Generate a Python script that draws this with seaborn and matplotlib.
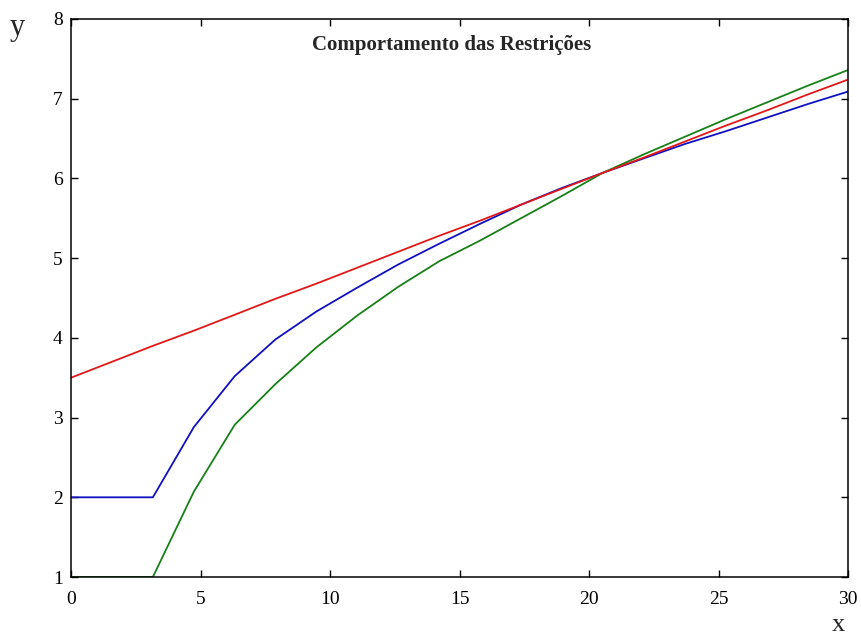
import numpy as np
import pandas as pd
import matplotlib
matplotlib.use("Agg")
import matplotlib.pyplot as plt
import seaborn as sns

# x grid of the curves (20 points from 0 to 30)
x = [0.0, 1.58, 3.16, 4.74, 6.32, 7.89, 9.47, 11.05, 12.63, 14.21,
     15.79, 17.37, 18.95, 20.53, 22.1, 23.68, 25.26, 26.84, 28.42, 30.0]

red = [3.50, 3.70, 3.90, 4.09, 4.29, 4.49, 4.68, 4.88, 5.08, 5.28,
       5.47, 5.67, 5.87, 6.07, 6.26, 6.46, 6.66, 6.85, 7.05, 7.24]
blue = [2.00, 2.00, 2.00, 2.88, 3.52, 3.98, 4.33, 4.63, 4.92, 5.18,
        5.43, 5.67, 5.88, 6.07, 6.25, 6.43, 6.59, 6.76, 6.93, 7.09]
green = [1.00, 1.00, 1.00, 2.07, 2.91, 3.42, 3.88, 4.28, 4.64, 4.96,
         5.22, 5.50, 5.78, 6.07, 6.30, 6.52, 6.74, 6.95, 7.16, 7.36]

title = "Comportamento das Restrições"

df = pd.concat([
    pd.DataFrame({"x": x, "y": red, "serie": "r"}),
    pd.DataFrame({"x": x, "y": blue, "serie": "b"}),
    pd.DataFrame({"x": x, "y": green, "serie": "g"}),
])

sns.set_style("ticks")
plt.rcParams["font.family"] = ["Liberation Serif", "DejaVu Serif"]

fig = plt.figure(figsize=(8.61, 6.41), dpi=100)
ax = fig.add_axes([0.0825, 0.0998, 0.9025, 0.8706])

sns.lineplot(data=df, x="x", y="y", hue="serie",
             palette={"r": "#e01818", "b": "#1010c0", "g": "#188018"},
             hue_order=["b", "g", "r"], linewidth=1.3, legend=False, ax=ax)

ax.set_xlim(0, 30)
ax.set_ylim(1, 8)
ax.set_xticks(range(0, 31, 5))
ax.set_yticks(range(1, 9))
ax.set_xlabel("")
ax.set_ylabel("")
ax.tick_params(direction="in", top=True, right=True, length=5, width=1,
               labelsize=14, colors="black", pad=6)
ax.tick_params(axis="x", pad=10)
for s in ax.spines.values():
    s.set_visible(True)
    s.set_color("black")
    s.set_linewidth(1.1)

ax.text(14.7, 7.67, title, ha="center", va="center", fontsize=15,
        fontweight="bold")

fig.text(17 / 861, 1 - 28 / 641, "y", fontsize=22, ha="center", va="center")
fig.text(838 / 861, 1 - 625 / 641, "x", fontsize=19, ha="center", va="center")

fig.savefig("out.png", dpi=100)
